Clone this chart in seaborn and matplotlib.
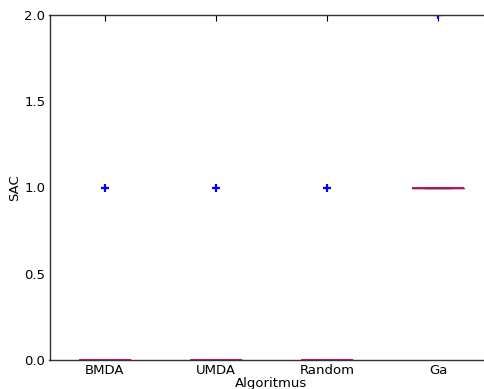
import matplotlib
matplotlib.use("Agg")
import matplotlib.pyplot as plt
import seaborn as sns
import pandas as pd

categories = ["BMDA", "UMDA", "Random", "Ga"]
bmda = [0, 0, 0, 0, 0, 0, 0, 0, 0, 1]
umda = [0, 0, 0, 0, 0, 0, 0, 0, 0, 1]
rand = [0, 0, 0, 0, 0, 0, 0, 0, 0, 1]
ga = [1, 1, 1, 1, 1, 1, 1, 1, 1, 2]
yticks = [0.0, 0.5, 1.0, 1.5, 2.0]

rows = []
for cat, vals in zip(categories, [bmda, umda, rand, ga]):
    for v in vals:
        rows.append({"Algoritmus": cat, "SAC": v})
df = pd.DataFrame(rows)

sns.set_style("white")
plt.rcParams['font.family'] = ['DejaVu Sans']

fig = plt.figure(figsize=(4.84, 3.89), dpi=100)
ax = fig.add_axes([49.5/484, 1-360/389, 444/484, 345/389])

sns.boxplot(data=df, x="Algoritmus", y="SAC", order=categories, ax=ax,
            fill=False, width=0.46, linecolor="blue", linewidth=1.0,
            whis=1.5,
            boxprops=dict(color="#5a5ad0"),
            medianprops=dict(color="#d0004a", linewidth=1.3, zorder=5),
            whiskerprops=dict(color="blue", linestyle="--"),
            flierprops=dict(marker="+", markeredgecolor="blue", markersize=6,
                            markeredgewidth=1.6, linestyle="none"))

ax.set_ylim(0, 2.0)
ax.set_xlim(-0.5, 3.5)
ax.set_yticks(yticks)
ax.set_yticklabels([f"{t:.1f}" for t in yticks])
ax.tick_params(direction="in", length=4, width=0.8, labelsize=9.5, colors="black",
               labelcolor="black", top=True, right=True, pad=3)
ax.set_xlabel("Algoritmus", fontsize=9.5, labelpad=0, color="black")
ax.set_ylabel("SAC", fontsize=9.5, labelpad=2, color="black")
for name, s in ax.spines.items():
    s.set_visible(name != "right")
    s.set_color("#333333")
    s.set_linewidth(1.0)

fig.savefig("out.png", dpi=100)
